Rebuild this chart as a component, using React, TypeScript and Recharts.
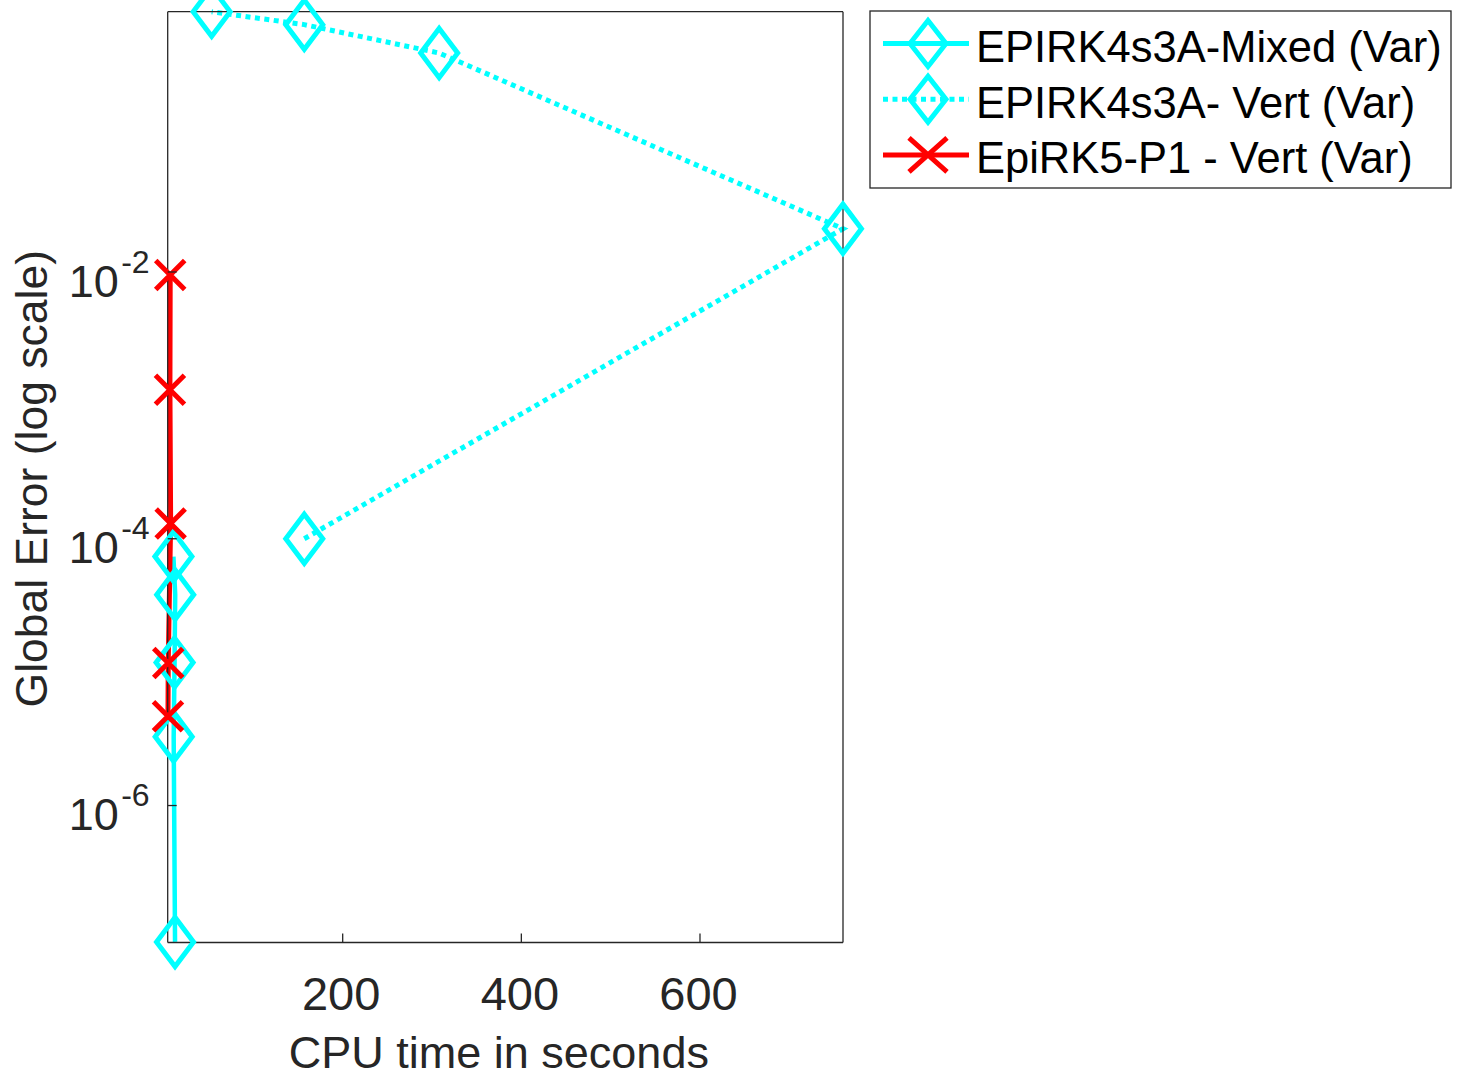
import React from 'react';
import { LineChart, Line, XAxis, YAxis, Legend, Label } from 'recharts';

// CPU time (s) vs global error
const mixedTime = [10.5, 12.5, 11.8, 10.8, 12.3];
const mixedError = [7.35e-5, 3.81e-5, 1.18e-5, 3.28e-6, 9.5e-8];

const vertTime = [157, 760, 308, 157, 53.3];
const vertError = [1.0e-4, 2.11e-2, 4.38e-1, 7.15e-1, 8.93e-1];

const epiTime = [6.9, 6.6, 7.4, 4.7, 4.4];
const epiError = [9.5e-3, 1.31e-3, 1.3e-4, 1.17e-5, 4.67e-6];

const xTicks = [200, 400, 600];
const yTicks = [1e-2, 1e-4, 1e-6];

const seriesNames = [
  'EPIRK4s3A-Mixed (Var)',
  'EPIRK4s3A- Vert (Var)',
  'EpiRK5-P1 - Vert (Var)',
];

const CYAN = '#00FFFF';
const RED = '#FF0000';
const AXIS = '#262626';
const FONT = '"Liberation Sans", Arial, Helvetica, sans-serif';

const toPoints = (xs: number[], ys: number[]) => xs.map((x, i) => ({ x, y: ys[i] }));

const mixedData = toPoints(mixedTime, mixedError);
const vertData = toPoints(vertTime, vertError);
const epiData = toPoints(epiTime, epiError);

const diamondPath = (cx: number, cy: number, w: number, h: number) =>
  `M${cx},${cy - h} L${cx + w},${cy} L${cx},${cy + h} L${cx - w},${cy} Z`;

const crossPath = (cx: number, cy: number, w: number, h: number) =>
  `M${cx - w},${cy - h} L${cx + w},${cy + h} M${cx - w},${cy + h} L${cx + w},${cy - h}`;

const renderDiamond = (p: any) => (
  <path
    key={`d-${p.index}`}
    d={diamondPath(p.cx, p.cy, 18.5, 24.6)}
    fill="none"
    stroke={CYAN}
    strokeWidth={5}
  />
);

const renderCross = (p: any) => (
  <path
    key={`x-${p.index}`}
    d={crossPath(p.cx, p.cy, 14.5, 14.5)}
    fill="none"
    stroke={RED}
    strokeWidth={5}
  />
);

const BottomTick = (props: any) => {
  const { x, y, payload } = props;
  return (
    <g>
      <line x1={x} x2={x} y1={y} y2={y - 9} stroke={AXIS} strokeWidth={1.3} />
      <text x={x - 1.5} y={y + 67.5} textAnchor="middle" fontSize={47} fill={AXIS} fontFamily={FONT}>
        {payload.value}
      </text>
    </g>
  );
};

const TopTick = (props: any) => {
  const { x, y } = props;
  return <line x1={x} x2={x} y1={y} y2={y + 9} stroke={AXIS} strokeWidth={1.3} />;
};

const LeftTick = (props: any) => {
  const { x, y, payload } = props;
  const exp = Math.round(Math.log10(payload.value));
  return (
    <g>
      <line x1={x} x2={x + 9} y1={y} y2={y} stroke={AXIS} strokeWidth={1.3} />
      <text x={x - 49} y={y + 24.7} textAnchor="end" fontSize={45} fill={AXIS} fontFamily={FONT}>
        10
      </text>
      <text x={x - 46.5} y={y + 0.7} textAnchor="start" fontSize={32} fill={AXIS} fontFamily={FONT}>
        {exp}
      </text>
    </g>
  );
};

const RightTick = (props: any) => {
  const { x, y } = props;
  return <line x1={x} x2={x - 9} y1={y} y2={y} stroke={AXIS} strokeWidth={1.3} />;
};

const LegendBox = () => {
  const rowGap = 55.7;
  return (
    <svg width={586} height={182} style={{ display: 'block' }}>
      <rect x={2} y={2} width={581} height={177} fill="#fff" stroke={AXIS} strokeWidth={1.3} />
      {seriesNames.map((name, i) => {
        const cy = 34.5 + i * rowGap;
        const color = i === 2 ? RED : CYAN;
        return (
          <g key={name}>
            <line
              x1={15}
              x2={101}
              y1={cy}
              y2={cy}
              stroke={color}
              strokeWidth={5}
              strokeDasharray={i === 1 ? '5 4.5' : undefined}
            />
            {i === 2 ? (
              <path d={crossPath(60, cy, 19, 17)} fill="none" stroke={RED} strokeWidth={5} />
            ) : (
              <path d={diamondPath(60, cy, 18, 23)} fill="none" stroke={CYAN} strokeWidth={5} />
            )}
            <text x={108} y={cy + 18.5} fontSize={43.5} fill="#000" fontFamily={FONT}>
              {name}
            </text>
          </g>
        );
      })}
    </svg>
  );
};

const App: React.FC = () => {
  return (
    <div style={{ position: 'absolute', left: 0, top: 0, background: '#fff' }}>
      <LineChart
        width={1459}
        height={1078}
        margin={{ top: 10.7, right: 615, bottom: 134.5, left: 166.7 }}
      >
        <XAxis
          dataKey="x"
          type="number"
          domain={[4.1, 760.1]}
          ticks={xTicks}
          height={1}
          tickSize={0}
          tickMargin={0}
          tickLine={false}
          tick={(p: any) => <BottomTick {...p} />}
          axisLine={{ stroke: AXIS, strokeWidth: 1.3 }}
        >
          <Label
            content={(p: any) => {
              const vb = p.viewBox;
              return (
                <text
                  x={vb.x + vb.width / 2 - 6.5}
                  y={vb.y + 125.5}
                  textAnchor="middle"
                  fontSize={45}
                  fill={AXIS}
                  fontFamily={FONT}
                >
                  CPU time in seconds
                </text>
              );
            }}
          />
        </XAxis>
        <XAxis
          xAxisId="top"
          orientation="top"
          dataKey="x"
          type="number"
          domain={[4.1, 760.1]}
          ticks={xTicks}
          height={1}
          tickSize={0}
          tickMargin={0}
          tickLine={false}
          tick={(p: any) => <TopTick {...p} />}
          axisLine={{ stroke: AXIS, strokeWidth: 1.3 }}
        />
        <YAxis
          type="number"
          scale="log"
          domain={[9.4e-8, 0.894]}
          ticks={yTicks}
          width={1}
          tickSize={0}
          tickMargin={0}
          tickLine={false}
          tick={(p: any) => <LeftTick {...p} />}
          axisLine={{ stroke: AXIS, strokeWidth: 1.3 }}
        >
          <Label
            content={(p: any) => {
              const vb = p.viewBox;
              const cy = vb.y + 467;
              return (
                <text
                  transform={`translate(47, ${cy}) rotate(-90)`}
                  textAnchor="middle"
                  fontSize={44.5}
                  fill={AXIS}
                  fontFamily={FONT}
                >
                  Global Error (log scale)
                </text>
              );
            }}
          />
        </YAxis>
        <YAxis
          yAxisId="right"
          orientation="right"
          type="number"
          scale="log"
          domain={[9.4e-8, 0.894]}
          ticks={yTicks}
          width={1}
          tickSize={0}
          tickMargin={0}
          tickLine={false}
          tick={(p: any) => <RightTick {...p} />}
          axisLine={{ stroke: AXIS, strokeWidth: 1.3 }}
        />
        <Line
          data={mixedData}
          dataKey="y"
          name={seriesNames[0]}
          type="linear"
          stroke={CYAN}
          strokeWidth={4.5}
          dot={renderDiamond}
          activeDot={false}
          isAnimationActive={false}
        />
        <Line
          data={vertData}
          dataKey="y"
          name={seriesNames[1]}
          type="linear"
          stroke={CYAN}
          strokeWidth={5}
          strokeDasharray="5 4.5"
          dot={renderDiamond}
          activeDot={false}
          isAnimationActive={false}
        />
        <Line
          data={epiData}
          dataKey="y"
          name={seriesNames[2]}
          type="linear"
          stroke={RED}
          strokeWidth={5}
          dot={renderCross}
          activeDot={false}
          isAnimationActive={false}
        />
        <Legend
          layout="horizontal"
          verticalAlign="middle"
          align="center"
          content={() => <LegendBox />}
          wrapperStyle={{ position: 'absolute', left: 868, top: 9, width: 586, height: 182 }}
        />
      </LineChart>
    </div>
  );
};

export default App;
